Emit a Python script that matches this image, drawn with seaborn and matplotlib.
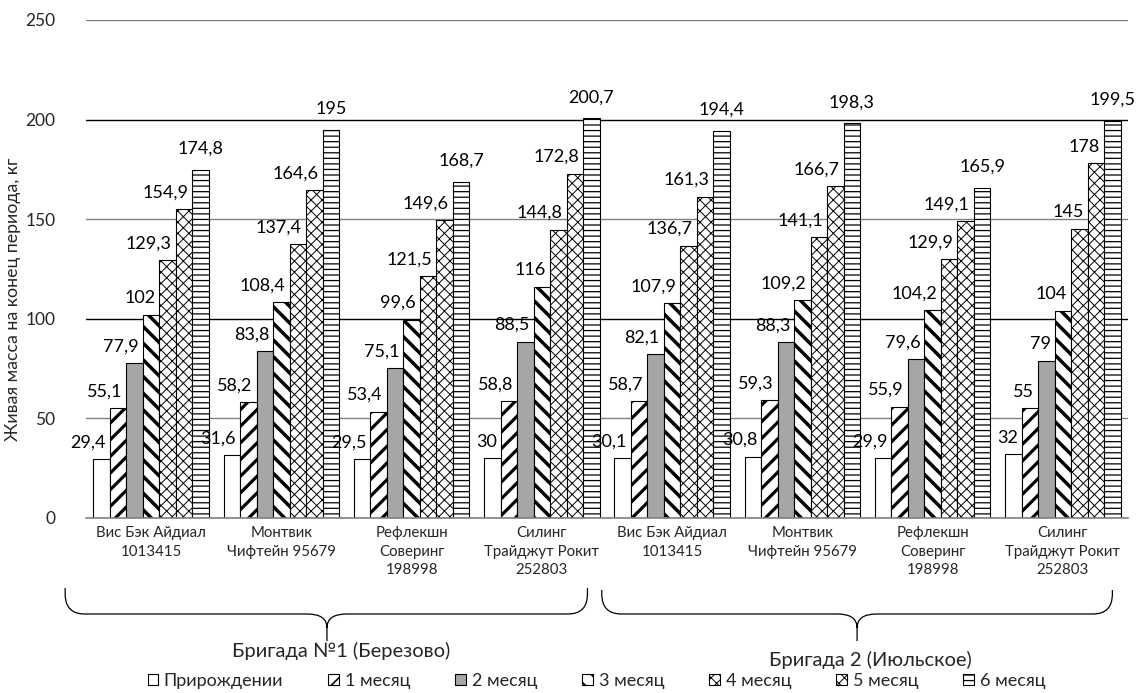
import numpy as np
import pandas as pd
import matplotlib
matplotlib.use("Agg")
import matplotlib.pyplot as plt
import matplotlib.transforms as mtransforms
from matplotlib.patches import Patch, PathPatch
from matplotlib.path import Path
import seaborn as sns

# ---- data -------------------------------------------------------------
varieties = [
    "Вис Бэк Айдиал\n1013415",
    "Монтвик\nЧифтейн 95679",
    "Рефлекшн\nСоверинг\n198998",
    "Силинг\nТрайджут Рокит\n252803",
]
brigades = ["Бригада №1 (Березово)", "Бригада 2 (Июльское)"]
periods = ["Прирождении", "1 месяц", "2 месяц", "3 месяц",
           "4 месяц", "5 месяц", "6 месяц"]

at_birth = [29.4, 31.6, 29.5, 30.0, 30.1, 30.8, 29.9, 32.0]
month_1 = [55.1, 58.2, 53.4, 58.8, 58.7, 59.3, 55.9, 55.0]
month_2 = [77.9, 83.8, 75.1, 88.5, 82.1, 88.3, 79.6, 79.0]
month_3 = [102.0, 108.4, 99.6, 116.0, 107.9, 109.2, 104.2, 104.0]
month_4 = [129.3, 137.4, 121.5, 144.8, 136.7, 141.1, 129.9, 145.0]
month_5 = [154.9, 164.6, 149.6, 172.8, 161.3, 166.7, 149.1, 178.0]
month_6 = [174.8, 195.0, 168.7, 200.7, 194.4, 198.3, 165.9, 199.5]
series = [at_birth, month_1, month_2, month_3, month_4, month_5, month_6]

y_ticks = [0, 50, 100, 150, 200, 250]

# ---- long table -----------------------------------------------------------
keys, labels = [], []
for b in range(len(brigades)):
    for v, name in enumerate(varieties):
        keys.append(f"{b}:{v}")
        labels.append(name)

rows = []
for p, vals in zip(periods, series):
    for k, val in zip(keys, vals):
        rows.append({"key": k, "period": p, "value": val})
df = pd.DataFrame(rows)

# ---- style --------------------------------------------------------------
sns.set_theme(style="white")
plt.rcParams["font.family"] = ["Lato", "Noto Sans", "DejaVu Sans"]
plt.rcParams["hatch.color"] = "black"

faces = ["white", "white", "#a6a6a6", "white", "white", "white", "white"]
hatches = [None, "//", None, "\\\\", "xxx", "xxx", "---"]
hatch_lw = [1.0, 2.3, 1.0, 2.5, 0.7, 0.7, 0.9]

fig = plt.figure(figsize=(11.36, 6.93), dpi=100)
ax = fig.add_axes([86 / 1136, 1 - 518 / 693, 1042 / 1136, 498 / 693])

sns.barplot(data=df, x="key", y="value", hue="period", order=keys,
            hue_order=periods, palette=["white"] * 7, saturation=1,
            width=0.885, edgecolor="black", linewidth=0.8,
            legend=False, ax=ax)


def with_hatch_width(artist, lw):
    """Draw an artist with its own hatch line width."""
    orig = artist.draw

    def draw(renderer, *args, **kwargs):
        with plt.rc_context({"hatch.linewidth": lw}):
            return orig(renderer, *args, **kwargs)

    artist.draw = draw
    if hasattr(artist, "set_hatch_linewidth"):
        artist.set_hatch_linewidth(lw)
    elif hasattr(artist, "_hatch_linewidth"):
        artist._hatch_linewidth = lw


def style_patch(patch, i):
    patch.set_facecolor(faces[i])
    patch.set_edgecolor("black")
    if hatches[i]:
        patch.set_hatch(hatches[i])
    with_hatch_width(patch, hatch_lw[i])


for i, cont in enumerate(ax.containers):
    for bar in cont:
        style_patch(bar, i)

# value labels
def fmt(v):
    return f"{v:g}".replace(".", ",")

for i, (cont, vals) in enumerate(zip(ax.containers, series)):
    for bar, v in zip(cont, vals):
        xc = bar.get_x() + bar.get_width() / 2
        if i == len(series) - 1:
            ax.annotate(fmt(v), (xc, v), xytext=(0, 15),
                        textcoords="offset points", ha="center",
                        va="center", fontsize=13, color="black")
        else:
            ax.annotate(fmt(v), (xc, v), xytext=(3, 12),
                        textcoords="offset points", ha="right",
                        va="center", fontsize=13, color="black")

# axes
ax.set_xlim(-0.5, len(keys) - 0.5)
ax.set_ylim(0, 250)
ax.set_yticks(y_ticks)
ax.set_yticklabels([str(t) for t in y_ticks], fontsize=12.5)
ax.set_xticks(range(len(keys)))
ax.set_xticklabels(labels, fontsize=10.8, linespacing=1.4)
ax.tick_params(axis="x", length=0, pad=6)
ax.tick_params(axis="y", length=0, pad=22)
ax.set_xlabel("")
ax.set_ylabel("Живая масса на конец периода, кг", fontsize=12.8)
ax.yaxis.set_label_coords(-0.062, 0.44)
ax.grid(False)
grid_colors = ["#808080", "#808080", "#000000", "#808080", "#000000", "#808080"]
for t, c in zip(y_ticks[1:], grid_colors[1:]):
    ax.axhline(t, color=c, linewidth=1.0, zorder=0)
for s in ["left", "right", "top"]:
    ax.spines[s].set_visible(False)
ax.spines["bottom"].set_color("#808080")
ax.spines["bottom"].set_linewidth(1.2)

# braces under each brigade
H = 693
def fy(px):
    return 1 - px / H

trans = mtransforms.blended_transform_factory(ax.transData, fig.transFigure)

def brace(x0, x1, xm, ytop, yh, ytip, rx=0.15, ry=20):
    verts = [
        (x0, fy(ytop)), (x0, fy(yh - ry)),
        (x0, fy(yh)), (x0 + rx, fy(yh)),
        (xm - rx, fy(yh)),
        (xm, fy(yh)), (xm, fy(yh + 14)),
        (xm, fy(ytip)),
        (xm, fy(yh + 14)),
        (xm, fy(yh)), (xm + rx, fy(yh)),
        (x1 - rx, fy(yh)),
        (x1, fy(yh)), (x1, fy(yh - ry)),
        (x1, fy(ytop)),
    ]
    codes = [Path.MOVETO, Path.LINETO,
             Path.CURVE3, Path.CURVE3,
             Path.LINETO,
             Path.CURVE3, Path.CURVE3,
             Path.LINETO,
             Path.MOVETO,
             Path.CURVE3, Path.CURVE3,
             Path.LINETO,
             Path.CURVE3, Path.CURVE3,
             Path.LINETO]
    pp = PathPatch(Path(verts, codes), transform=trans, fill=False,
                   edgecolor="black", linewidth=0.9, clip_on=False)
    fig.add_artist(pp)

brace(-0.66, 3.35, 1.35, 588, 614, 641)
brace(3.46, 7.38, 5.42, 590, 614, 641)

fig.text(341 / 1136, fy(651), brigades[0], ha="center", va="center",
         fontsize=14.5)
fig.text(870 / 1136, fy(660), brigades[1], ha="center", va="center",
         fontsize=14.5)

# legend
handles = []
for i, p in enumerate(periods):
    h = Patch(facecolor=faces[i], edgecolor="black", linewidth=0.8,
              hatch=hatches[i], label=p)
    handles.append(h)
leg = fig.legend(handles=handles, loc="center",
                 bbox_to_anchor=(0.525, fy(681)), ncol=7, frameon=False,
                 fontsize=13, handlelength=0.6, handleheight=0.6,
                 handletextpad=0.3, columnspacing=2.5)
for i, lp in enumerate(leg.get_patches()):
    with_hatch_width(lp, min(hatch_lw[i], 1.2))

fig.savefig("out.png", dpi=100)
